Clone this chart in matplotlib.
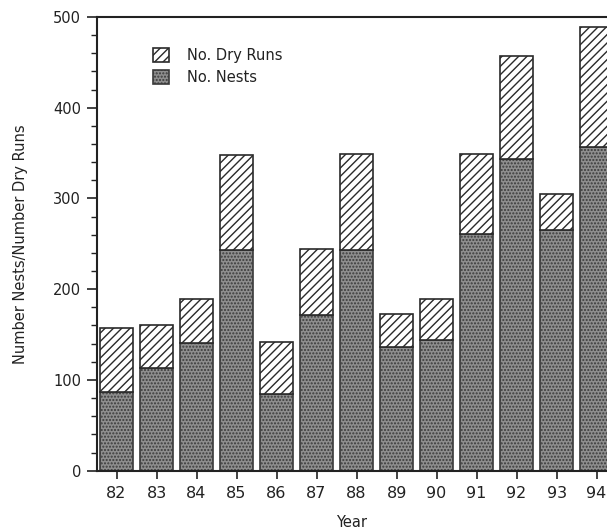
import numpy as np
import matplotlib.pyplot as plt
from matplotlib.ticker import MultipleLocator
from matplotlib.patches import Patch

# --- Data ---
years = [82, 83, 84, 85, 86, 87, 88, 89, 90, 91, 92, 93, 94]
nests = [87, 113, 141, 243, 84, 172, 243, 136, 144, 261, 344, 265, 357]
dry_runs = [70, 47, 48, 105, 58, 72, 106, 37, 45, 88, 113, 40, 132]

plt.rcParams['font.family'] = ['DejaVu Sans']
plt.rcParams['hatch.linewidth'] = 1.0

fig = plt.figure(figsize=(6.07, 5.31), dpi=100)
ax = fig.add_axes([0.159, 0.1136, 0.841, 0.8544])

x = np.array(years)
ax.bar(x, nests, width=0.82, facecolor='#8e8e8e', edgecolor='#3a3a3a',
       hatch='.....', linewidth=1.2, zorder=2)
ax.bar(x, dry_runs, bottom=nests, width=0.82, facecolor='white',
       edgecolor='#2a2a2a', hatch='////', linewidth=1.2, zorder=2)

ax.set_xlim(81.5, 94.26)
ax.set_ylim(0, 500)
ax.set_xticks(years)
ax.set_xticklabels([str(y) for y in years])
ax.yaxis.set_major_locator(MultipleLocator(100))
ax.yaxis.set_minor_locator(MultipleLocator(20))

for side in ['left', 'bottom', 'top']:
    ax.spines[side].set_linewidth(1.5)
    ax.spines[side].set_color('#222222')
ax.spines['right'].set_visible(False)

ax.tick_params(axis='y', which='major', direction='out', length=7, width=1.2,
               labelsize=10.5, pad=4, colors='#222222')
ax.tick_params(axis='y', which='minor', direction='out', length=4, width=1.0,
               colors='#222222')
ax.tick_params(axis='x', direction='out', length=6, width=1.2, labelsize=11.5,
               pad=5, colors='#222222')

ax.set_xlabel('Year', fontsize=10.5, labelpad=10, color='#222222')
ax.set_ylabel('Number Nests/Number Dry Runs', fontsize=10.5, labelpad=18,
              color='#222222')

handles = [
    Patch(facecolor='white', edgecolor='#2a2a2a', hatch='////', linewidth=1.2),
    Patch(facecolor='#8e8e8e', edgecolor='#3a3a3a', hatch='.....', linewidth=1.2),
]
ax.legend(handles, ['No. Dry Runs', 'No. Nests'], loc='upper left',
          bbox_to_anchor=(0.085, 0.96), frameon=False, fontsize=10.5,
          handlelength=1.1, handleheight=1.1, handletextpad=1.2,
          labelspacing=0.45, labelcolor='#222222')

fig.savefig('out.png', dpi=100)
